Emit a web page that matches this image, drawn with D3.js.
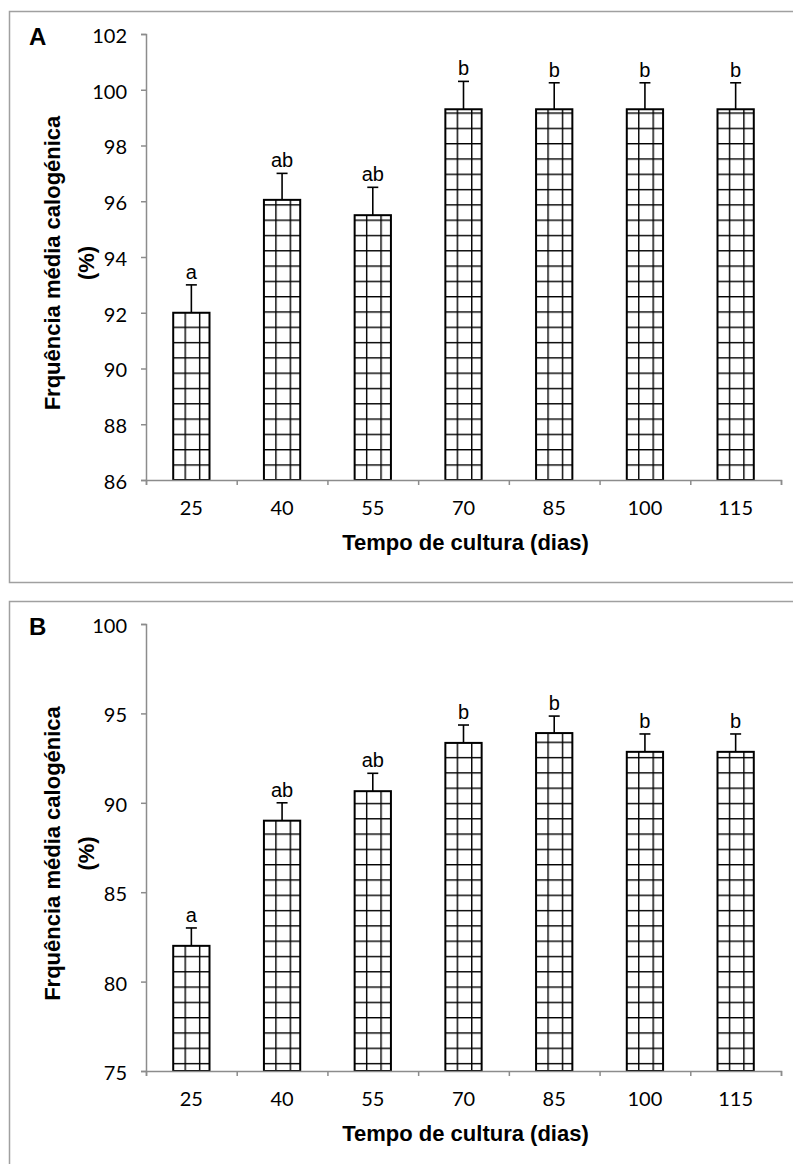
<!DOCTYPE html>
<html>
<head>
	<meta charset="utf-8">
	<title>Frequência média calogénica</title>
	<script src="https://d3js.org/d3.v7.min.js"></script>
	<style>
		body { margin: 0; background: #fff; }
		.tick text { font-family: Lato, "Open Sans", sans-serif; font-size: 20px; fill: #000; }
	</style>
</head>
<body>
	<svg width="793" height="1164"></svg>
	<script>
		// data
		var categories = ["25", "40", "55", "70", "85", "100", "115"];

		var meanA = [92.0, 96.05, 95.5, 99.3, 99.3, 99.3, 99.3];
		var errA = [1.0, 0.95, 1.0, 1.0, 0.95, 0.95, 0.95];
		var letterA = ["a", "ab", "ab", "b", "b", "b", "b"];
		var ticksA = [86, 88, 90, 92, 94, 96, 98, 100, 102];

		var meanB = [82.0, 89.0, 90.65, 93.35, 93.9, 92.85, 92.85];
		var errB = [1.0, 1.0, 1.0, 1.0, 0.95, 1.0, 1.0];
		var letterB = ["a", "ab", "ab", "b", "b", "b", "b"];
		var ticksB = [75, 80, 85, 90, 95, 100];

		var svg = d3.select('svg');
		var defs = svg.append('defs');

		const left = 146, right = 781;
		const axisGrey = '#8c8c8c';

		function panel(id, tag, frameTop, yTop, yBottom, ticks, means, errs, letters, patPhase) {
			const g = svg.append('g');

			// outer frame
			g.append('rect')
				.attr('x', 9.5).attr('y', frameTop + 0.5)
				.attr('width', 800).attr('height', id == 'A' ? 571 : 620)
				.attr('fill', 'none').attr('stroke', '#a0a0a0').attr('stroke-width', 1.5);

			const x = d3.scaleBand()
				.domain(categories)
				.range([left, right])
				.paddingInner(0.6)
				.paddingOuter(0.3);

			const y = d3.scaleLinear()
				.domain([ticks[0], ticks[ticks.length - 1]])
				.range([yBottom, yTop]);

			// bars with a square grid fill
			const bars = g.append('g');
			means.forEach(function(v, i) {
				const bx = x(categories[i]);
				const pid = 'grid' + id + i;
				const p = defs.append('pattern')
					.attr('id', pid)
					.attr('patternUnits', 'userSpaceOnUse')
					.attr('x', bx + 11.3).attr('y', yTop + patPhase)
					.attr('width', 14.4).attr('height', 15.3);
				p.append('rect').attr('width', 14.4).attr('height', 15.3).attr('fill', '#fff');
				p.append('line').attr('x1', 0.7).attr('x2', 0.7).attr('y1', 0).attr('y2', 15.3)
					.attr('stroke', '#000').attr('stroke-width', 1.4);
				p.append('line').attr('x1', 0).attr('x2', 14.4).attr('y1', 0.7).attr('y2', 0.7)
					.attr('stroke', '#000').attr('stroke-width', 1.4);

				bars.append('rect')
					.attr('x', bx)
					.attr('y', y(v))
					.attr('width', x.bandwidth())
					.attr('height', yBottom - y(v))
					.attr('fill', 'url(#' + pid + ')')
					.attr('stroke', '#000')
					.attr('stroke-width', 2);
			});

			// upper error bars
			const eb = g.append('g').attr('stroke', '#000').attr('stroke-width', 1.6);
			means.forEach(function(v, i) {
				const cx = x(categories[i]) + x.bandwidth() / 2;
				eb.append('line').attr('x1', cx).attr('x2', cx).attr('y1', y(v)).attr('y2', y(v + errs[i]));
				eb.append('line').attr('x1', cx - 5.5).attr('x2', cx + 5.5).attr('y1', y(v + errs[i])).attr('y2', y(v + errs[i]));
			});

			// letters
			g.append('g').selectAll('text')
				.data(letters)
				.enter()
				.append('text')
				.attr('x', (d, i) => x(categories[i]) + x.bandwidth() / 2)
				.attr('y', (d, i) => y(means[i] + errs[i]) - 6)
				.attr('text-anchor', 'middle')
				.style('font-family', '"Liberation Sans", Arial, sans-serif')
				.style('font-size', '20px')
				.text(d => d);

			// y axis
			const ya = g.append('g')
				.attr('transform', `translate(${left}, 0)`)
				.call(d3.axisLeft(y).tickValues(ticks).tickSize(5).tickPadding(14));
			ya.selectAll('.domain, line').attr('stroke', axisGrey).attr('stroke-width', 1.5);
			ya.selectAll('text').attr('dy', '0.42em');

			// x axis: boundary ticks + category labels
			const bound = d3.scaleLinear().domain([0, categories.length]).range([left, right]);
			const xa = g.append('g')
				.attr('transform', `translate(0, ${yBottom})`)
				.call(d3.axisBottom(bound).ticks(categories.length).tickSize(5).tickFormat(''));
			xa.selectAll('.domain, line').attr('stroke', axisGrey).attr('stroke-width', 1.5);

			const xl = g.append('g')
				.attr('transform', `translate(0, ${yBottom})`)
				.call(d3.axisBottom(x).tickSize(0).tickPadding(21));
			xl.select('.domain').remove();

			// axis titles
			g.append('text')
				.attr('x', (left + right) / 2 + 2)
				.attr('y', yBottom + 70)
				.attr('text-anchor', 'middle')
				.style('font-family', '"Liberation Sans", Arial, sans-serif')
				.style('font-weight', 'bold')
				.style('font-size', '22px')
				.text('Tempo de cultura (dias)');

			const my = (yTop + yBottom) / 2 + 6;
			const yt = g.append('text')
				.attr('transform', `translate(60, ${my}) rotate(-90)`)
				.attr('text-anchor', 'middle')
				.style('font-family', '"Liberation Sans", Arial, sans-serif')
				.style('font-weight', 'bold')
				.style('font-size', '22px');
			yt.append('tspan').attr('x', 0).attr('y', 0).text('Frquência média calogénica');
			yt.append('tspan').attr('x', 0).attr('y', 34).text('(%)');

			g.append('text')
				.attr('x', 29).attr('y', frameTop + 34)
				.style('font-family', '"Liberation Sans", Arial, sans-serif')
				.style('font-weight', 'bold')
				.style('font-size', '24px')
				.text(tag);
		}

		panel('A', 'A', 11, 34, 480, ticksA, meanA, errA, letterA, 1.9);
		panel('B', 'B', 601, 624, 1071, ticksB, meanB, errB, letterB, 10.5);
	</script>
</body>
</html>
